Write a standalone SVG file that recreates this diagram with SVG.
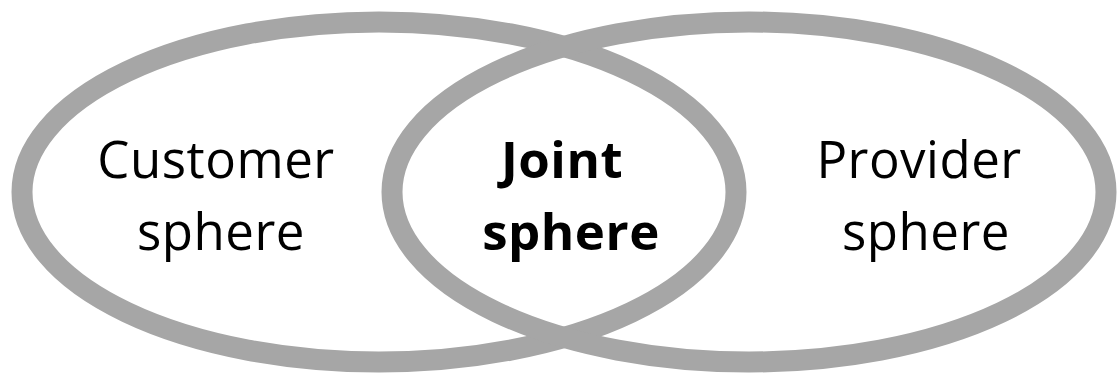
<svg xmlns="http://www.w3.org/2000/svg" width="1117" height="374" viewBox="0 0 1117 374">
  <style>
    .ring { fill: none; stroke: #a6a6a6; stroke-width: 21; }
    .label { font-family: "Open Sans", "Liberation Sans", sans-serif; font-size: 51px; fill: #000; text-anchor: middle; letter-spacing: 0.5px; }
    .bold { font-weight: bold; }
  </style>
  <rect width="1117" height="374" fill="#ffffff"/>
  <g id="customer">
    <ellipse class="ring" cx="379" cy="192" rx="357" ry="170"/>
    <text class="label" x="216" y="178">Customer</text>
    <text class="label" x="221" y="250">sphere</text>
  </g>
  <g id="provider">
    <ellipse class="ring" cx="749" cy="192" rx="357" ry="170"/>
    <text class="label" x="919" y="178">Provider</text>
    <text class="label" x="926" y="250">sphere</text>
  </g>
  <g id="joint">
    <text class="label bold" x="562" y="178">Joint</text>
    <text class="label bold" x="571" y="250">sphere</text>
  </g>
</svg>
